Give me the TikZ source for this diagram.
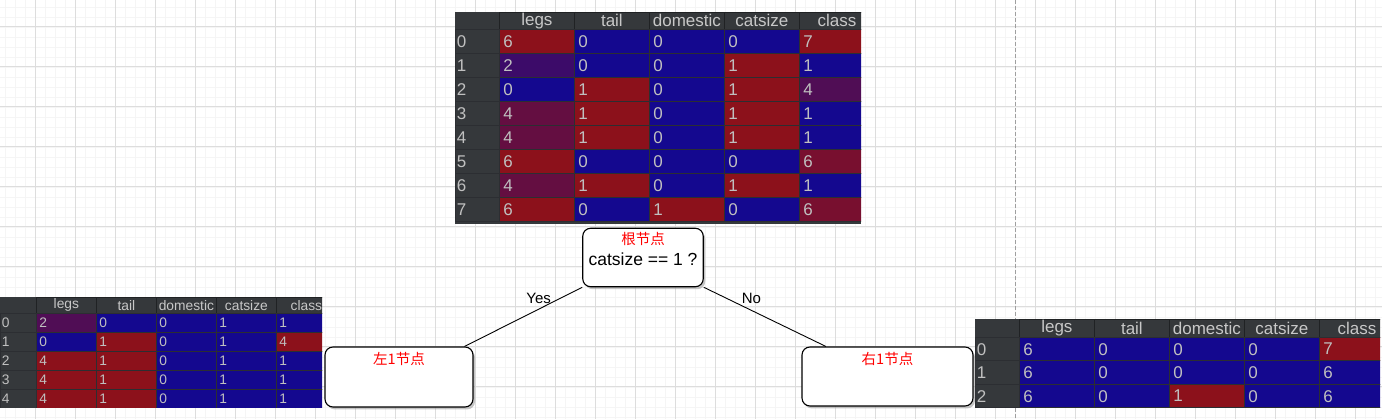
\documentclass[tikz,border=0pt]{standalone}
\usepackage{fontspec}
\setmainfont{Liberation Sans}
\newfontfamily\cjk{Noto Sans CJK SC}
\usepackage{tikz}
\usetikzlibrary{positioning}
\usetikzlibrary{shadows}
\definecolor{tblbg}{RGB}{53, 56, 59}
\definecolor{tblline}{RGB}{44, 46, 50}
\definecolor{hdrsep}{RGB}{32, 34, 36}
\definecolor{hdrtext}{RGB}{200, 200, 200}
\definecolor{celltext}{RGB}{192, 192, 192}
\definecolor{hred}{RGB}{140, 17, 27}
\definecolor{hblue}{RGB}{20, 8, 143}
\definecolor{gridmajor}{RGB}{221, 221, 221}
\definecolor{gridminor}{RGB}{245, 245, 245}
\newcommand{\bigtbl}{\fontsize{17pt}{19pt}\selectfont}
\newcommand{\smalltbl}{\fontsize{13.8pt}{16pt}\selectfont}
\tikzset{
  cellbase/.style={draw=tblline, line width=0.8pt, anchor=north west, inner xsep=4pt, inner ysep=0pt, align=left, text=celltext},
  hdrbase/.style={fill=tblbg, draw=hdrsep, line width=0.8pt, anchor=north west, inner sep=0pt, text=hdrtext},
  topcell/.style={cellbase, text width=67pt, minimum height=24pt, font=\bigtbl},
  topidx/.style={cellbase, fill=tblbg, inner xsep=1.5pt, text width=41pt, minimum height=24pt, font=\bigtbl},
  tophdr/.style={hdrbase, minimum width=75pt, minimum height=17pt, font=\bigtbl},
  rcell/.style={cellbase, text width=67pt, minimum height=23.5pt, font=\bigtbl},
  ridx/.style={cellbase, fill=tblbg, inner xsep=1.5pt, text width=41pt, minimum height=23.5pt, font=\bigtbl},
  rhdr/.style={hdrbase, minimum width=75pt, minimum height=18pt, font=\bigtbl},
  lcell/.style={cellbase, inner xsep=3pt, text width=54pt, minimum height=19pt, font=\smalltbl},
  lidx/.style={cellbase, fill=tblbg, inner xsep=1.5pt, text width=33pt, minimum height=19pt, font=\smalltbl},
  lhdr/.style={hdrbase, minimum width=60pt, minimum height=16pt, font=\smalltbl},
  treebox/.style={draw=black, line width=1.1pt, fill=white, rounded corners=8pt,
    drop shadow={shadow xshift=2pt, shadow yshift=-2.5pt, fill=black!45, opacity=0.5}},
  rednote/.style={text=red, font=\cjk\fontsize{14.5pt}{16pt}\selectfont, inner sep=0pt},
  testtext/.style={font=\fontsize{17.5pt}{19pt}\selectfont, inner sep=0pt},
  branch/.style={line width=0.9pt, black},
  branchlabel/.style={font=\fontsize{15pt}{17pt}\selectfont, inner sep=0pt},
}

\begin{document}
\begin{tikzpicture}[x=1pt, y=-1pt]
\useasboundingbox (0,0) rectangle (1382,419);
% background grid
\foreach \gx in {5,15,...,1375} \draw[gridminor, line width=0.8pt] (\gx,0) -- (\gx,419);
\foreach \gy in {7,17,...,417} \draw[gridminor, line width=0.8pt] (0,\gy) -- (1382,\gy);
\foreach \gx in {35,75,...,1355} \draw[gridmajor, line width=1pt] (\gx,0) -- (\gx,419);
\foreach \gy in {27,67,...,387} \draw[gridmajor, line width=1pt] (0,\gy) -- (1382,\gy);
\draw[gray!75, line width=0.8pt, dash pattern=on 4pt off 2pt] (1015,0) -- (1015,419);

% root table
\begin{scope}
\clip (455,12) rectangle (861,224);
\fill[tblbg] (455,12) rectangle (861,224);
\node[tophdr, minimum width=44pt, draw=none] (top-h0) at (455,12) {};
\foreach \col/\lbl in {1/legs, 2/tail, 3/domestic, 4/catsize, 5/class}
  \node[tophdr] (top-h\col) at ({499+(\col-1)*75},12) {\lbl};
\foreach \i/\vals in {0/{6/100,0/0,0/0,0/0,7/100},
                      1/{2/33,0/0,0/0,1/100,1/0},
                      2/{0/0,1/100,0/0,1/100,4/50},
                      3/{4/67,1/100,0/0,1/100,1/0},
                      4/{4/67,1/100,0/0,1/100,1/0},
                      5/{6/100,0/0,0/0,0/0,6/83},
                      6/{4/67,1/100,0/0,1/100,1/0},
                      7/{6/100,0/0,1/100,0/0,6/83}}{
  \node[topidx] (top-\i) at (455,{29+\i*24}) {\i};
  \foreach \v/\p [count=\col] in \vals
    \node[topcell, fill=hred!\p!hblue] (top-\i-\col) at ({499+(\col-1)*75},{29+\i*24}) {\v};
}
\end{scope}

% left table
\begin{scope}
\clip (0,297) rectangle (322,408);
\node[lhdr, minimum width=36pt, draw=none] (lt-h0) at (0,297) {};
\foreach \col/\lbl in {1/legs, 2/tail, 3/domestic, 4/catsize, 5/class}
  \node[lhdr] (lt-h\col) at ({36+(\col-1)*60},297) {\lbl};
\foreach \i/\vals in {0/{2/50,0/0,0/0,1/0,1/0},
                      1/{0/0,1/100,0/0,1/0,4/100},
                      2/{4/100,1/100,0/0,1/0,1/0},
                      3/{4/100,1/100,0/0,1/0,1/0},
                      4/{4/100,1/100,0/0,1/0,1/0}}{
  \node[lidx] (lt-\i) at (0,{313+\i*19}) {\i};
  \foreach \v/\p [count=\col] in \vals
    \node[lcell, fill=hred!\p!hblue] (lt-\i-\col) at ({36+(\col-1)*60},{313+\i*19}) {\v};
}
\end{scope}

% right table
\begin{scope}
\clip (975,319) rectangle (1380,407.5);
\node[rhdr, minimum width=44pt, draw=none] (rt-h0) at (975,319) {};
\foreach \col/\lbl in {1/legs, 2/tail, 3/domestic, 4/catsize, 5/class}
  \node[rhdr] (rt-h\col) at ({1019+(\col-1)*75},319) {\lbl};
\foreach \i/\vals in {0/{6/0,0/0,0/0,0/0,7/100},
                      1/{6/0,0/0,0/0,0/0,6/0},
                      2/{6/0,0/0,1/100,0/0,6/0}}{
  \node[ridx] (rt-\i) at (975,{337+\i*23.5}) {\i};
  \foreach \v/\p [count=\col] in \vals
    \node[rcell, fill=hred!\p!hblue] (rt-\i-\col) at ({1019+(\col-1)*75},{337+\i*23.5}) {\v};
}
\end{scope}

% tree
\node[treebox, minimum width=120.5pt, minimum height=58.5pt] (root) at (643,257.5) {};
\node[rednote] (root-title) at ([yshift=-11.7pt]root.north) {根节点};
\node[testtext] (root-test) at ([yshift=-31.5pt]root.north) {catsize == 1 ?};
\node[treebox, minimum width=148pt, minimum height=60pt] (left1) at (399,377) {};
\node[rednote] (left1-title) at ([yshift=-12.3pt]left1.north) {左1节点};
\node[treebox, minimum width=171pt, minimum height=59pt] (right1) at (887.5,376.5) {};
\node[rednote] (right1-title) at ([yshift=-12.3pt]right1.north) {右1节点};
\draw[branch] (root.south west) -- node[branchlabel, pos=0.37, yshift=11pt] (yes) {Yes} (left1.25);
\draw[branch] (root.south east) -- node[branchlabel, pos=0.39, yshift=12pt] (no) {No} (right1.154);
\end{tikzpicture}
\end{document}
